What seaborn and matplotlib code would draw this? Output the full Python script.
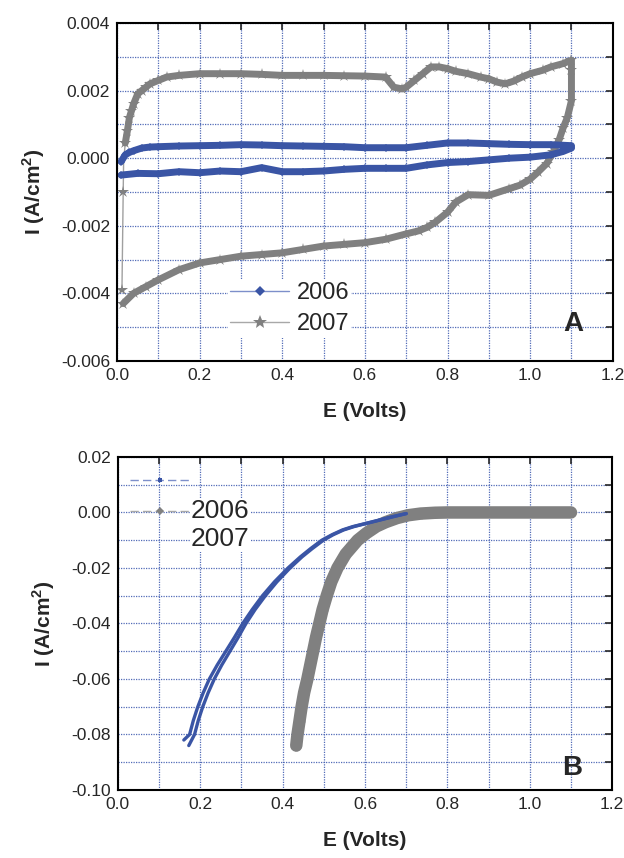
import numpy as np
import pandas as pd
import matplotlib
matplotlib.use("Agg")
import matplotlib.pyplot as plt
from matplotlib.lines import Line2D
from matplotlib.ticker import MultipleLocator, FuncFormatter
import seaborn as sns

# ---- Panel A: cyclic voltammograms ----
a06_E = [0.01, 0.02, 0.03, 0.04, 0.06, 0.08, 0.1, 0.15, 0.2, 0.25, 0.3, 0.35, 0.4, 0.45, 0.5, 0.55, 0.6,
         0.65, 0.7, 0.75, 0.8, 0.85, 0.9, 0.95, 1.0, 1.05, 1.1,
         1.1, 1.08, 1.05, 1.0, 0.95, 0.9, 0.85, 0.8, 0.75, 0.7, 0.65, 0.6, 0.55, 0.5, 0.45, 0.4, 0.35,
         0.3, 0.25, 0.2, 0.15, 0.1, 0.05, 0.01]
a06_I = [-0.0001, 0.0001, 0.00017, 0.00022, 0.0003, 0.00033, 0.00034, 0.00036, 0.00037, 0.00038,
         0.0004, 0.00039, 0.00037, 0.00036, 0.00035, 0.00034, 0.00031, 0.00031, 0.00031, 0.00038,
         0.00045, 0.00045, 0.00043, 0.00041, 0.0004, 0.0004, 0.00037,
         0.0003, 0.0002, 0.0001, 0.00003, 0.0, -0.00005, -0.0001, -0.00013, -0.0002, -0.0003, -0.0003,
         -0.0003, -0.00033, -0.00038, -0.0004, -0.0004, -0.00028, -0.0004, -0.00038, -0.00043, -0.0004,
         -0.00046, -0.00045, -0.0005]

a07_E = [0.012, 0.015, 0.016,
         0.02, 0.025, 0.03, 0.035, 0.04, 0.05, 0.06, 0.07, 0.08, 0.1, 0.12, 0.15, 0.2, 0.25, 0.3, 0.35,
         0.4, 0.45, 0.5, 0.55, 0.6, 0.65, 0.67, 0.69, 0.7, 0.72, 0.74, 0.76, 0.78, 0.8, 0.82, 0.85,
         0.88, 0.9, 0.92, 0.94, 0.96, 0.98, 1.0, 1.03, 1.05, 1.08, 1.1,
         1.1, 1.1, 1.09, 1.08, 1.07, 1.056, 1.04, 1.02, 1.0, 0.975, 0.95, 0.9, 0.85, 0.82, 0.8, 0.77,
         0.75, 0.73, 0.7, 0.65, 0.6, 0.55, 0.5, 0.45, 0.4, 0.35, 0.3, 0.25, 0.2, 0.15, 0.1, 0.07,
         0.04, 0.015]
a07_I = [-0.0039, -0.001, -0.0001,
         0.00045, 0.0008, 0.0012, 0.0014, 0.0016, 0.0019, 0.002, 0.0021, 0.0022, 0.0023, 0.0024,
         0.00245, 0.0025, 0.0025, 0.0025, 0.00248, 0.00245, 0.00245, 0.00245, 0.00244, 0.00243,
         0.0024, 0.0021, 0.00205, 0.0021, 0.0023, 0.0025, 0.0027, 0.0027, 0.00265, 0.00257, 0.0025,
         0.0024, 0.00235, 0.00225, 0.0022, 0.00228, 0.0024, 0.0025, 0.0026, 0.0027, 0.0028, 0.0029,
         0.0026, 0.0017, 0.0012, 0.0009, 0.00054, 0.00018, -0.00016, -0.0004, -0.00062, -0.0008,
         -0.0009, -0.0011, -0.00108, -0.0013, -0.0016, -0.0019, -0.00205, -0.00215, -0.00224, -0.0024,
         -0.0025, -0.00255, -0.0026, -0.0027, -0.0028, -0.00285, -0.0029, -0.003, -0.0031, -0.0033,
         -0.0036, -0.0038, -0.004, -0.0043]

# ---- Panel B: polarization curves ----
b06_fwd_E = [0.160, 0.174, 0.183, 0.194, 0.207, 0.222, 0.241, 0.262, 0.283, 0.303, 0.326, 0.351, 0.38,
             0.413, 0.443, 0.468, 0.495, 0.52, 0.545, 0.57, 0.60, 0.635, 0.67, 0.70]
b06_fwd_I = [-0.082, -0.08, -0.075, -0.07, -0.065, -0.06, -0.055, -0.05, -0.045, -0.04, -0.035, -0.03,
             -0.025, -0.02, -0.016, -0.013, -0.01, -0.008, -0.0063, -0.0051, -0.004, -0.0027, -0.0014,
             -0.0004]
b06_rev_E = [0.172, 0.186, 0.195, 0.206, 0.219, 0.234, 0.252, 0.272, 0.292, 0.311, 0.333, 0.358, 0.386,
             0.418, 0.447, 0.472, 0.499, 0.523, 0.548, 0.573, 0.602, 0.637, 0.672, 0.70]
b06_rev_I = [-0.084, -0.08, -0.075, -0.07, -0.065, -0.06, -0.055, -0.05, -0.045, -0.04, -0.035, -0.03,
             -0.025, -0.02, -0.016, -0.013, -0.01, -0.008, -0.0063, -0.0051, -0.004, -0.0027, -0.0014,
             -0.0004]
b07_E = [0.433, 0.436, 0.441, 0.446, 0.452, 0.46, 0.467, 0.474, 0.481, 0.489, 0.497, 0.507, 0.518, 0.533,
         0.553, 0.582, 0.603, 0.628, 0.65, 0.678, 0.705, 0.735, 0.77, 0.8, 0.85, 0.9, 0.95, 1.0, 1.05, 1.1]
b07_I = [-0.084, -0.08, -0.075, -0.07, -0.065, -0.06, -0.055, -0.05, -0.045, -0.04, -0.035, -0.03,
         -0.025, -0.02, -0.015, -0.01, -0.0075, -0.005, -0.0035, -0.002, -0.001, -0.0004, -0.0001,
         0.0, 0.0, 0.0, 0.0, 0.0, 0.0, 0.0]

years = ["2006", "2007"]
blue = "#3a55a5"
gray = "#808080"
gridc = "#3f5cb0"

sns.set_style("white")
plt.rcParams["font.family"] = ["Liberation Sans", "DejaVu Sans"]

fig = plt.figure(figsize=(6.24, 8.58), dpi=100)
axA = fig.add_axes([0.1875, 0.5793, 0.7945, 0.3939])
axB = fig.add_axes([0.189, 0.0793, 0.792, 0.3881])


def style_axes(ax, ymaj, ymin, ylo, yhi, nd):
    ax.set_xlim(0, 1.2)
    ax.set_ylim(ylo, yhi)
    ax.xaxis.set_major_locator(MultipleLocator(0.2))
    ax.xaxis.set_minor_locator(MultipleLocator(0.1))
    ax.yaxis.set_major_locator(MultipleLocator(ymaj))
    ax.yaxis.set_minor_locator(MultipleLocator(ymin))
    ax.xaxis.set_major_formatter(FuncFormatter(lambda v, p: f"{abs(v) if abs(v) < 1e-9 else v:.1f}"))
    ax.yaxis.set_major_formatter(FuncFormatter(lambda v, p: f"{0.0 if abs(v) < 1e-9 else v:.{nd}f}"))
    ax.grid(True, which="both", color=gridc, linestyle=(0, (1, 1)), linewidth=0.9, alpha=0.9)
    ax.set_axisbelow(True)
    ax.tick_params(which="both", direction="in", top=True, right=True, length=5, width=1.2,
                   labelsize=12.5, pad=5)
    for s in ax.spines.values():
        s.set_linewidth(1.5)
        s.set_color("black")
    ax.set_xlabel("E (Volts)", fontsize=15, fontweight="bold", labelpad=14)
    ax.set_ylabel("I (A/cm$^\\mathregular{2}$)", fontsize=15, fontweight="bold", labelpad=10)


# Panel A
dfA06 = pd.DataFrame({"E": a06_E, "I": a06_I})
dfA07 = pd.DataFrame({"E": a07_E, "I": a07_I})
sns.lineplot(data=dfA07, x="E", y="I", sort=False, estimator=None, ax=axA, color="#a0a0a0", lw=1)
sns.lineplot(data=dfA07.iloc[3:], x="E", y="I", sort=False, estimator=None, ax=axA, color=gray, lw=5,
             marker="*", markersize=9, markeredgewidth=0)
sns.lineplot(data=dfA07.iloc[:2], x="E", y="I", sort=False, estimator=None, ax=axA, color=gray, lw=0,
             marker="*", markersize=9, markeredgewidth=0)
sns.lineplot(data=dfA06, x="E", y="I", sort=False, estimator=None, ax=axA, color=blue, lw=5,
             marker="D", markersize=4, markeredgewidth=0)
style_axes(axA, 0.002, 0.001, -0.006, 0.004, 3)

hA = [Line2D([], [], color="#7d8fca", lw=1, marker="D", markersize=5, markerfacecolor=blue,
             markeredgewidth=0),
      Line2D([], [], color="#a8a8a8", lw=1, marker="*", markersize=10, markerfacecolor=gray,
             markeredgewidth=0)]
axA.legend(hA, years, loc="center left", bbox_to_anchor=(0.2, 0.155), fontsize=17, frameon=True,
           facecolor="white", edgecolor="none", framealpha=1, handlelength=2.5, handletextpad=0.3,
           labelspacing=0.4, borderpad=0.1, fancybox=False)
axA.text(0.921, 0.108, "A", transform=axA.transAxes, fontsize=20, fontweight="bold",
         ha="center", va="center")

# Panel B
dfB06f = pd.DataFrame({"E": b06_fwd_E, "I": b06_fwd_I})
dfB06r = pd.DataFrame({"E": b06_rev_E, "I": b06_rev_I})
dfB07 = pd.DataFrame({"E": b07_E, "I": b07_I})
sns.lineplot(data=dfB07, x="E", y="I", sort=False, estimator=None, ax=axB, color=gray, lw=9,
             marker="o", markersize=7, markeredgewidth=0)
sns.lineplot(data=dfB06f, x="E", y="I", sort=False, estimator=None, ax=axB, color=blue, lw=2.4)
sns.lineplot(data=dfB06r, x="E", y="I", sort=False, estimator=None, ax=axB, color=blue, lw=2.4)
style_axes(axB, 0.02, 0.01, -0.10, 0.02, 2)

hB = [Line2D([], [], color="#7d8fca", lw=1, dashes=(6, 3), marker="s", markersize=3,
             markerfacecolor=blue, markeredgewidth=0),
      Line2D([], [], color="#a8a8a8", lw=1, dashes=(6, 3), marker="D", markersize=4,
             markerfacecolor=gray, markeredgewidth=0)]
axB.legend(hB, ["", ""], loc="upper left", bbox_to_anchor=(0.0, 0.985), frameon=False,
           handlelength=3.6, handletextpad=0, labelspacing=1.0, borderpad=0.2, fontsize=12)
axB.text(0.148, 0.795, "2006\n2007", transform=axB.transAxes, fontsize=19, ha="left", va="center",
         linespacing=1.2, bbox=dict(facecolor="white", edgecolor="none", pad=1))
axB.text(0.919, 0.066, "B", transform=axB.transAxes, fontsize=20, fontweight="bold",
         ha="center", va="center")

fig.savefig("out.png", dpi=100)
